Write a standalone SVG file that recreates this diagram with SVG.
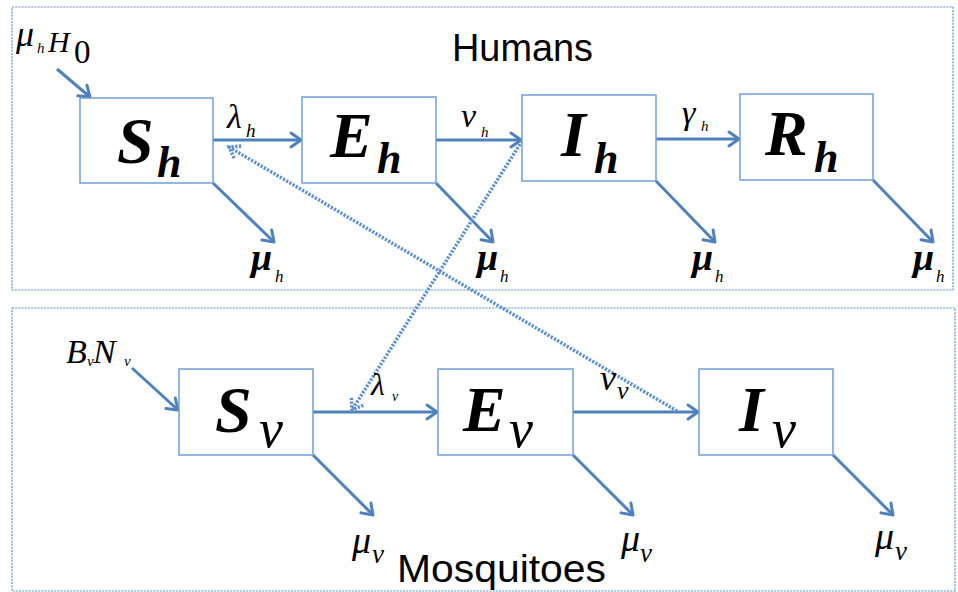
<svg xmlns="http://www.w3.org/2000/svg" width="958" height="592" viewBox="0 0 958 592">
<style>
.frame{fill:none;stroke:#5b8fd0;stroke-width:1.2;stroke-dasharray:2 1.2}
.box{fill:#fff;stroke:#6f9fd6;stroke-width:1.5}
.arr{fill:none;stroke:#4f81bd;stroke-width:3;marker-end:url(#ah)}
.dot{fill:none;stroke:#5b8fd0;stroke-width:3.5;stroke-dasharray:2.2 1.5;marker-end:url(#dh)}
.big{font-family:"Liberation Serif","Times New Roman",serif;font-style:italic;font-weight:bold;fill:#000}
.it{font-family:"Liberation Serif","Times New Roman",serif;font-style:italic;fill:#000}
.up{font-family:"Liberation Serif","Times New Roman",serif;fill:#000}
.title{font-family:"Liberation Sans",Arial,sans-serif;font-size:38px;fill:#000}
</style>
<defs>
<marker id="ah" markerUnits="userSpaceOnUse" markerWidth="24" markerHeight="24" viewBox="-12 -12 24 24" refX="0" refY="0" orient="auto">
<path d="M-10,-7 L0,0 L-10,7" fill="none" stroke="#4f81bd" stroke-width="3" stroke-linejoin="round" stroke-linecap="round"/>
</marker>
<marker id="dh" markerUnits="userSpaceOnUse" markerWidth="24" markerHeight="24" viewBox="-12 -12 24 24" refX="0" refY="0" orient="auto">
<path d="M-10,-7 L0,0 L-10,7" fill="none" stroke="#5b8fd0" stroke-width="3.5" stroke-dasharray="2.2 1.5"/>
</marker>
</defs>

<g id="humans-frame">
<rect class="frame" x="12" y="7" width="941" height="283"/>
<text class="title" x="452" y="61" textLength="141" lengthAdjust="spacingAndGlyphs">Humans</text>
</g>
<g id="mosquitoes-frame">
<rect class="frame" x="12" y="308" width="943" height="283"/>
<text class="title" x="397" y="582" textLength="209" lengthAdjust="spacingAndGlyphs">Mosquitoes</text>
</g>

<g id="connectors">
<line class="arr" x1="57" y1="69" x2="90" y2="97"/>
<line class="arr" x1="213" y1="140" x2="301" y2="140"/>
<line class="arr" x1="436" y1="140" x2="521" y2="140"/>
<line class="arr" x1="656" y1="139" x2="739" y2="139"/>
<line class="arr" x1="213" y1="183" x2="274" y2="242"/>
<line class="arr" x1="436" y1="183" x2="493" y2="242"/>
<line class="arr" x1="656" y1="181" x2="715" y2="242"/>
<line class="arr" x1="873" y1="180" x2="933" y2="242"/>
<line class="arr" x1="132" y1="368" x2="178" y2="410"/>
<line class="arr" x1="313" y1="412" x2="437" y2="412"/>
<line class="arr" x1="573" y1="412" x2="698" y2="412"/>
<line class="arr" x1="313" y1="455" x2="373" y2="515"/>
<line class="arr" x1="573" y1="455" x2="633" y2="515"/>
<line class="arr" x1="833" y1="455" x2="893" y2="515"/>
<line class="dot" x1="677" y1="411" x2="229" y2="147"/>
<line class="dot" x1="522" y1="141" x2="352" y2="410"/>
</g>

<g id="labels">
<text class="it" x="16" y="46" font-size="36">μ</text>
<text class="it" x="37" y="53" font-size="15">h</text>
<text class="it" x="48" y="52" font-size="30">H</text>
<text class="up" x="74" y="63" font-size="33">0</text>

<text class="it" x="227" y="128" font-size="34">λ</text>
<text class="it" x="246" y="137" font-size="19">h</text>
<text class="it" x="461" y="127" font-size="34">ν</text>
<text class="it" x="481" y="137" font-size="15">h</text>
<text class="it" x="682" y="124" font-size="34">γ</text>
<text class="it" x="701" y="131" font-size="15">h</text>

<text class="big" x="251" y="270" font-size="38">μ</text>
<text class="it" x="275" y="282" font-size="17">h</text>
<text class="big" x="477" y="270" font-size="38">μ</text>
<text class="it" x="500" y="282" font-size="17">h</text>
<text class="big" x="692" y="270" font-size="38">μ</text>
<text class="it" x="715" y="282" font-size="17">h</text>
<text class="big" x="913" y="270" font-size="38">μ</text>
<text class="it" x="936" y="282" font-size="17">h</text>

<text class="it" x="66" y="363" font-size="34">B</text>
<text class="it" x="87" y="366" font-size="15">v</text>
<text class="it" x="93" y="363" font-size="34">N</text>
<text class="it" x="124" y="366" font-size="15">v</text>

<text class="it" x="371" y="395" font-size="32">λ</text>
<text class="it" x="392" y="401" font-size="14">v</text>
<text class="it" x="600" y="390" font-size="36">ν</text>
<text class="it" x="617" y="399" font-size="26">v</text>

<text class="it" x="352" y="553" font-size="38">μ</text>
<text class="it" x="372" y="563" font-size="27">v</text>
<text class="it" x="621" y="551" font-size="38">μ</text>
<text class="it" x="640" y="562" font-size="27">v</text>
<text class="it" x="875" y="549" font-size="38">μ</text>
<text class="it" x="895" y="560" font-size="27">v</text>
</g>

<g id="Sh">
<rect class="box" x="80" y="98" width="133" height="85"/>
<text class="big" x="117" y="163" font-size="66">S</text>
<text class="big" x="157" y="177" font-size="44">h</text>
</g>
<g id="Eh">
<rect class="box" x="302" y="97" width="134" height="86"/>
<text class="big" x="330" y="157" font-size="64">E</text>
<text class="big" x="377" y="173" font-size="44">h</text>
</g>
<g id="Ih">
<rect class="box" x="522" y="95" width="134" height="86"/>
<text class="big" x="561" y="156" font-size="64">I</text>
<text class="big" x="594" y="173" font-size="44">h</text>
</g>
<g id="Rh">
<rect class="box" x="740" y="94" width="133" height="86"/>
<text class="big" x="765" y="155" font-size="64">R</text>
<text class="big" x="814" y="172" font-size="44">h</text>
</g>
<g id="Sv">
<rect class="box" x="179" y="369" width="134" height="86"/>
<text class="big" x="215" y="432" font-size="66">S</text>
<text class="it" x="259" y="447" font-size="54">v</text>
</g>
<g id="Ev">
<rect class="box" x="438" y="369" width="135" height="86"/>
<text class="big" x="463" y="431" font-size="64">E</text>
<text class="it" x="509" y="447" font-size="54">v</text>
</g>
<g id="Iv">
<rect class="box" x="699" y="369" width="134" height="86"/>
<text class="big" x="739" y="431" font-size="64">I</text>
<text class="it" x="772" y="447" font-size="54">v</text>
</g>
</svg>
